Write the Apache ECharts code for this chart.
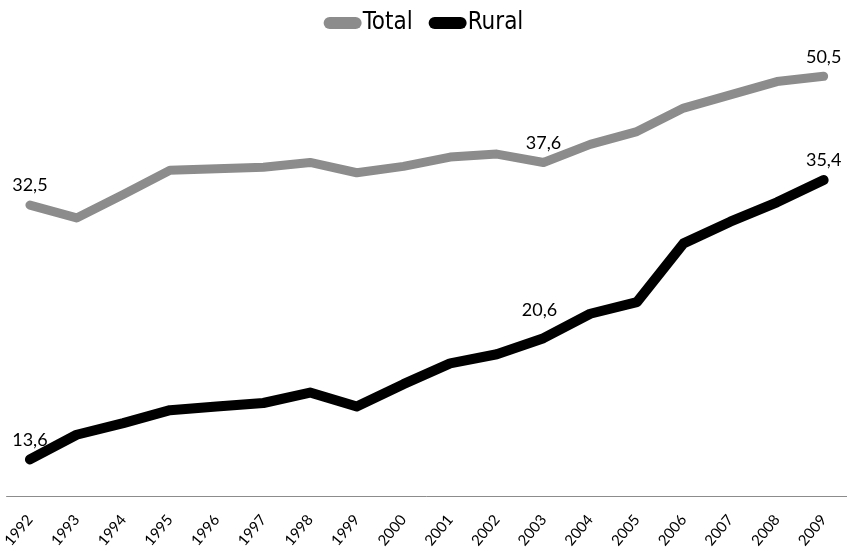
<!DOCTYPE html>
<html>
<head>
<meta charset="utf-8">
<script src="https://cdn.jsdelivr.net/npm/echarts@6/dist/echarts.min.js"></script>
<style>
  html, body { margin: 0; padding: 0; background: #ffffff; }
  #chart { width: 847px; height: 555px; }
</style>
</head>
<body>
<div id="chart"></div>
<script>
// Years on the category axis
var years = ['1992', '1993', '1994', '1995', '1996', '1997', '1998', '1999', '2000',
             '2001', '2002', '2003', '2004', '2005', '2006', '2007', '2008', '2009'];

// Series values
var totalValues = [32.5, 31.1, 33.7, 36.6, 36.8, 37.0, 37.6, 36.3, 37.1,
                   38.3, 38.7, 37.6, 40.0, 41.8, 45.3, 47.4, 49.6, 50.5];
var ruralValues = [13.6, 14.8, 15.4, 16.1, 16.3, 16.5, 17.1, 16.3, 17.6,
                   18.9, 19.5, 20.6, 22.4, 23.3, 28.5, 30.7, 32.8, 35.4];

// Years whose values are printed on the lines
var labelledYears = ['1992', '2003', '2009'];

var seriesNames = ['Total', 'Rural'];

function withLabels(values, extraOffsets) {
  return values.map(function (v, i) {
    var idx = labelledYears.indexOf(years[i]);
    if (idx < 0) return v;
    return {
      value: v,
      label: {
        show: true,
        position: 'top',
        distance: 10,
        offset: extraOffsets[idx]
      }
    };
  });
}

function decimalComma(p) {
  return String(p.value).replace('.', ',');
}

var pillIcon = 'path://M6,0 L32,0 A6,6 0 0 1 32,12 L6,12 A6,6 0 0 1 6,0 Z';

var chart = echarts.init(document.getElementById('chart'), null, { renderer: 'canvas' });

chart.setOption({
  animation: false,
  backgroundColor: '#ffffff',
  legend: {
    top: 6,
    left: 'center',
    itemWidth: 38,
    itemHeight: 12,
    itemGap: 16,
    icon: pillIcon,
    textStyle: {
      fontFamily: "'Liberation Sans Narrow', 'DejaVu Sans Condensed', Lato, sans-serif",
      fontSize: 24,
      color: '#000000',
      padding: [0, 0, 0, -4]
    },
    data: seriesNames
  },
  grid: {
    left: 6.5,
    right: -4.5,
    top: 26,
    bottom: 59,
    containLabel: false
  },
  xAxis: {
    type: 'category',
    data: years,
    boundaryGap: true,
    axisLine: { show: true, lineStyle: { color: '#8c8c8c', width: 1 } },
    axisTick: { show: false },
    axisLabel: {
      rotate: 50,
      margin: 21,
      fontFamily: 'Lato, sans-serif',
      fontSize: 15,
      color: '#000000',
      interval: 0
    },
    splitLine: { show: false }
  },
  yAxis: {
    type: 'log',
    logBase: 10,
    min: 12,
    max: 60,
    show: false,
    splitLine: { show: false }
  },
  series: [
    {
      name: 'Total',
      type: 'line',
      data: withLabels(totalValues, [[0, 0], [0, 0], [0, 0]]),
      symbol: 'circle',
      symbolSize: 1,
      showSymbol: true,
      itemStyle: { color: '#8c8c8c' },
      lineStyle: { color: '#8c8c8c', width: 9, cap: 'round', join: 'round' },
      label: {
        color: '#000000',
        fontFamily: 'Lato, sans-serif',
        fontSize: 18,
        formatter: decimalComma
      },
      z: 2
    },
    {
      name: 'Rural',
      type: 'line',
      data: withLabels(ruralValues, [[0, 0], [-4, -9], [0, 0]]),
      symbol: 'circle',
      symbolSize: 1,
      showSymbol: true,
      itemStyle: { color: '#000000' },
      lineStyle: { color: '#000000', width: 10, cap: 'round', join: 'round' },
      label: {
        color: '#000000',
        fontFamily: 'Lato, sans-serif',
        fontSize: 18,
        formatter: decimalComma
      },
      z: 3
    }
  ]
});
</script>
</body>
</html>
